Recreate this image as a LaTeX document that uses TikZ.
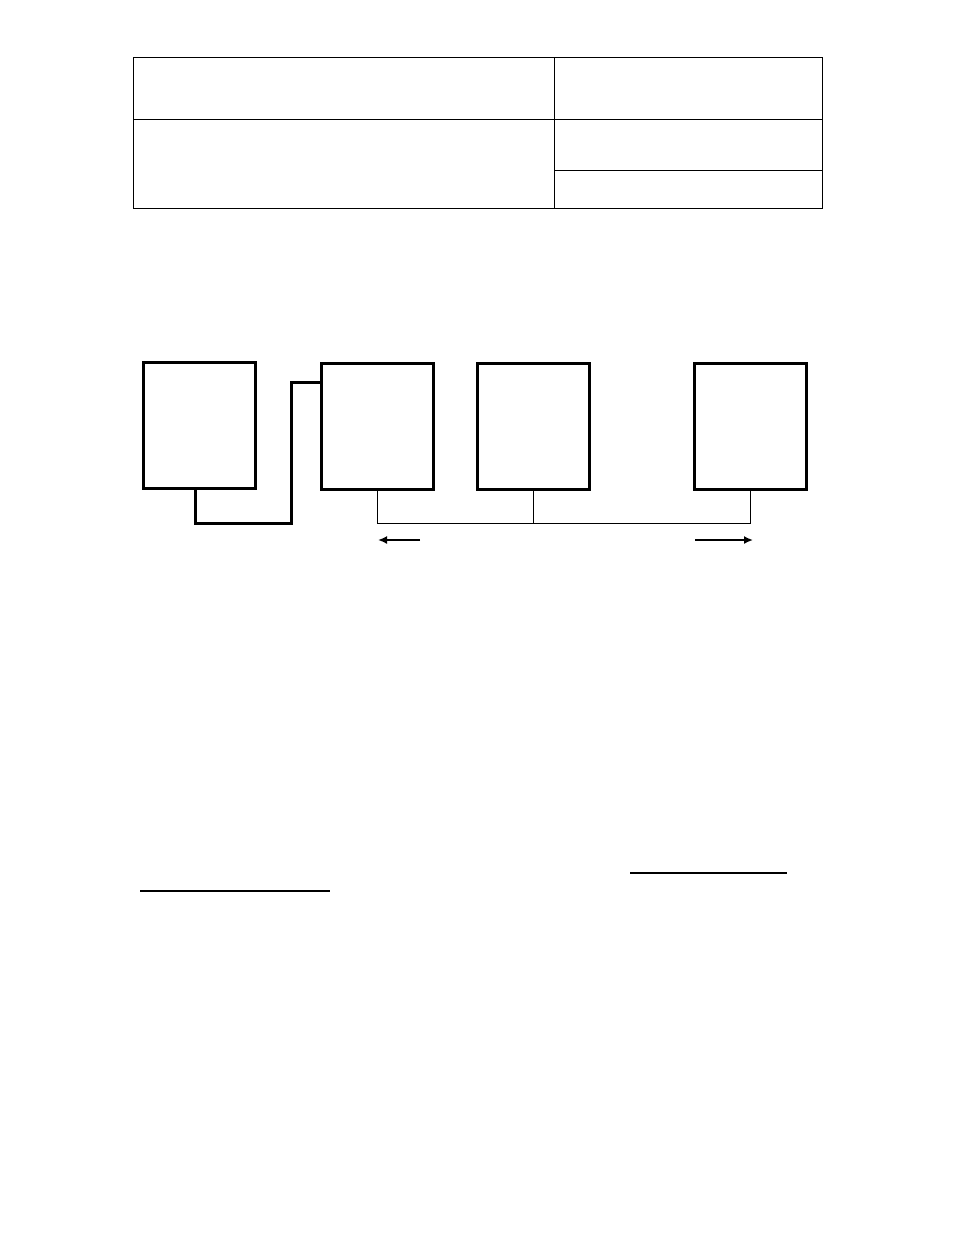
\documentclass[tikz,border=0pt]{standalone}
\usetikzlibrary{arrows.meta}
\begin{document}
\begin{tikzpicture}
[x=1pt, y=-1pt,
 boxdecorate/.style={shape=rectangle,draw,line width=3pt,inner sep=0pt,
   minimum width=112pt,minimum height=126pt},
 thickdecorate/.style={-,line width=3pt},
 thindecorate/.style={-,line width=1pt},
 arrowdecorate/.style={-{Latex[length=9pt,width=8pt]},line width=1.7pt},
 tabledecorate/.style={-,line width=1pt}]
\useasboundingbox (0,0) rectangle (954,1235);
%% table at the top
\draw[tabledecorate] (133,57) rectangle (822,208);
\draw[tabledecorate] (554,57) -- (554,208);
\draw[tabledecorate] (133,119) -- (822,119);
\draw[tabledecorate] (554,170) -- (822,170);
%% nodes or boxes
\foreach \nodename/\x/\y in {unita/199/425, unitb/377/426, unitc/533/426,
  unitd/750/426}
{
  \node (\nodename) at (\x,\y) [boxdecorate] {};
}
\coordinate (bend) at (291,523);
\coordinate (bus) at (377,523);
\coordinate (leftstart) at (420,540);
\coordinate (leftend) at (378,540);
\coordinate (rightstart) at (695,540);
\coordinate (rightend) at (753,540);
%% edges or lines
\draw[thickdecorate] ([xshift=-4pt]unita.south) |- (bend)
  |- ([yshift=-21pt]unitb.north west);
\draw[thindecorate] (unitb.south) -- (bus) -- (bus -| unitd.south)
  -- (unitd.south);
\draw[thindecorate] (unitc.south) -- (unitc.south |- bus);
\draw[arrowdecorate] (leftstart) -- (leftend);
\draw[arrowdecorate] (rightstart) -- (rightend);
%% underlines at the bottom
\draw[line width=2pt] (630,873) -- (787,873);
\draw[line width=1.5pt] (140,891) -- (330,891);
\end{tikzpicture}
\end{document}
